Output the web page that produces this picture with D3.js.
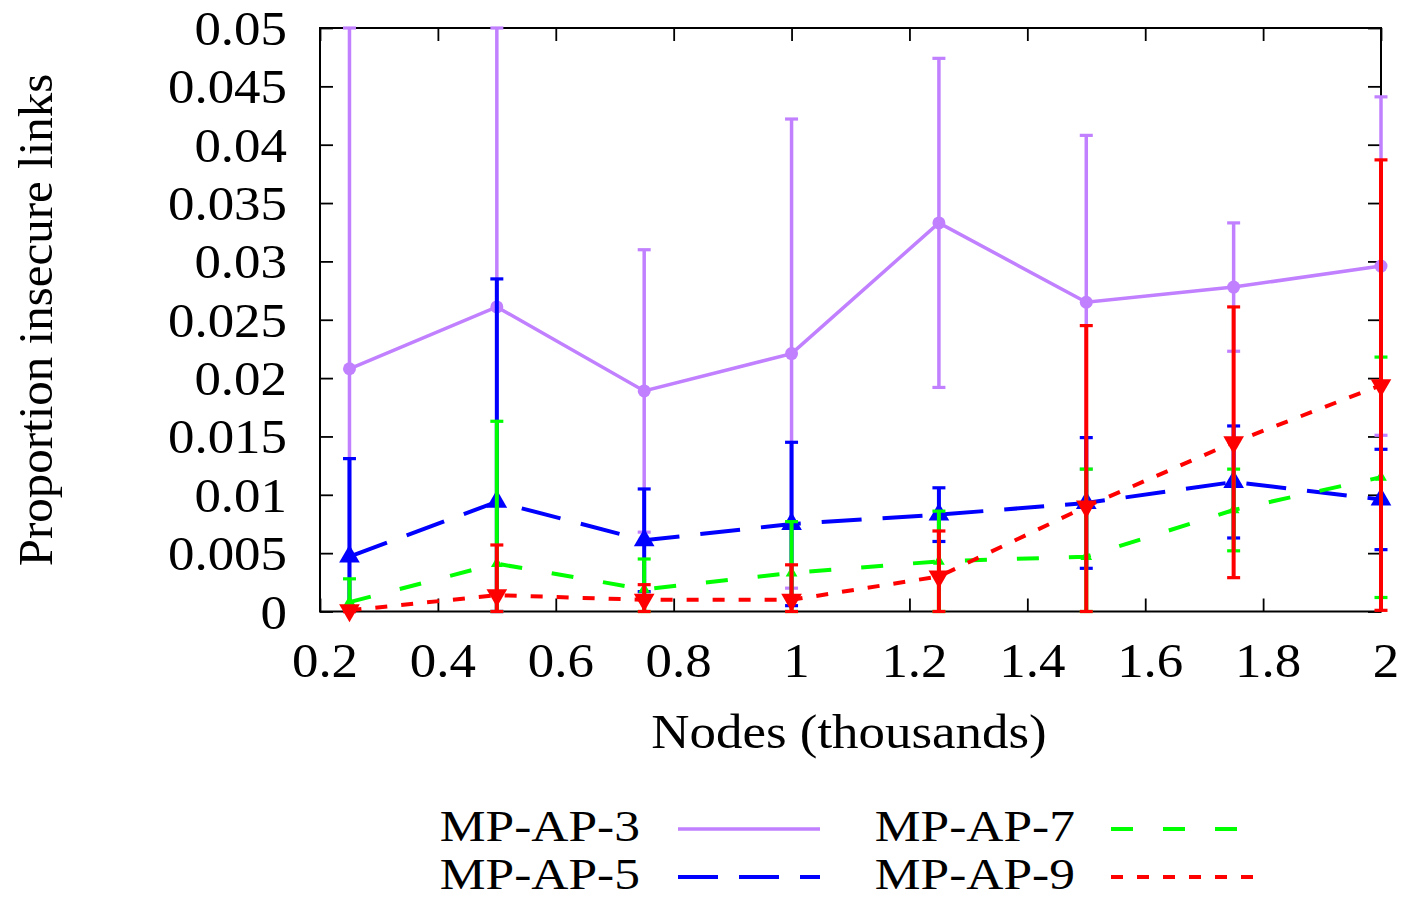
<!DOCTYPE html>
<html><head><meta charset="utf-8">
<script src="https://cdn.jsdelivr.net/npm/d3@7"></script>
<style>html,body{margin:0;padding:0;background:#fff;} text{font-family:"Liberation Serif","Times New Roman",serif;fill:#000;}</style>
</head><body>
<svg id="chart" width="1407" height="898"></svg>
<script>
// ---- data ----
const nodes = [0.25, 0.5, 0.75, 1.0, 1.25, 1.5, 1.75, 2.0];
const seriesNames = ["MP-AP-3", "MP-AP-5", "MP-AP-7", "MP-AP-9"];
const ap3Mean = [0.0208, 0.0261, 0.0189, 0.0221, 0.0333, 0.0265, 0.0278, 0.0296];
const ap3Err  = [0.0300, 0.0270, 0.0121, 0.0201, 0.0141, 0.0143, 0.0055, 0.0145];
const ap5Mean = [0.0047, 0.0094, 0.0061, 0.0075, 0.0083, 0.0093, 0.0111, 0.0096];
const ap5Err  = [0.0084, 0.0191, 0.0044, 0.0070, 0.0023, 0.0056, 0.0048, 0.0043];
const ap7Mean = [0.0008, 0.0041, 0.0019, 0.0033, 0.0043, 0.0047, 0.0087, 0.0115];
const ap7Err  = [0.0020, 0.0122, 0.0026, 0.0044, 0.0043, 0.0075, 0.0035, 0.0103];
const ap9Mean = [0.0001, 0.0014, 0.0010, 0.0010, 0.0030, 0.0090, 0.0145, 0.0194];
const ap9Err  = [0.0002, 0.0043, 0.0013, 0.0030, 0.0039, 0.0155, 0.0116, 0.0193];
const xTicks = [0.2, 0.4, 0.6, 0.8, 1.0, 1.2, 1.4, 1.6, 1.8, 2.0];
const xTickLabels = ["0.2", "0.4", "0.6", "0.8", "1", "1.2", "1.4", "1.6", "1.8", "2"];
const yTicks = [0, 0.005, 0.01, 0.015, 0.02, 0.025, 0.03, 0.035, 0.04, 0.045, 0.05];
const yTickLabels = ["0", "0.005", "0.01", "0.015", "0.02", "0.025", "0.03", "0.035", "0.04", "0.045", "0.05"];
const xTitle = "Nodes (thousands)";
const yTitle = "Proportion insecure links";

// ---- styles ----
const styles = [
  {color: "#c080ff", dash: null,     lw: 3.5, ew: 3.5, marker: "circle"},
  {color: "#0000ff", dash: "40,21",  lw: 4,   ew: 4,   marker: "up",   size: 185},
  {color: "#00ff00", dash: "22,30",  lw: 4,   ew: 4,   marker: "up",   size: 60},
  {color: "#ff0000", dash: "12,14",  lw: 4,   ew: 4,   marker: "down", size: 185}
];
const series = [
  {name: seriesNames[0], mean: ap3Mean, err: ap3Err},
  {name: seriesNames[1], mean: ap5Mean, err: ap5Err},
  {name: seriesNames[2], mean: ap7Mean, err: ap7Err},
  {name: seriesNames[3], mean: ap9Mean, err: ap9Err}
];

const L = 320, R = 1381, T = 28, B = 611.5;
const x = d3.scaleLinear().domain([0.2, 2.0]).range([L, R]);
const y = d3.scaleLinear().domain([0, 0.05]).range([B, T]);
const svg = d3.select("#chart");
const FS = 49, SX = 1.08;

function stext(g, px, py, str, anchor, sx, rot, fs) {
  return g.append("text")
    .attr("transform", `translate(${px},${py}) rotate(${rot || 0}) scale(${sx},1)`)
    .attr("text-anchor", anchor)
    .attr("font-size", fs || FS)
    .text(str);
}

// frame and ticks via axes
const tick = 13;
const gx = svg.append("g").attr("transform", `translate(0,${B})`)
  .call(d3.axisBottom(x).tickValues(xTicks).tickSize(-tick).tickFormat(""));
const gxt = svg.append("g").attr("transform", `translate(0,${T})`)
  .call(d3.axisTop(x).tickValues(xTicks).tickSize(-tick).tickFormat(""));
const gy = svg.append("g").attr("transform", `translate(${L},0)`)
  .call(d3.axisLeft(y).tickValues(yTicks).tickSize(-tick).tickFormat(""));
const gyr = svg.append("g").attr("transform", `translate(${R},0)`)
  .call(d3.axisRight(y).tickValues(yTicks).tickSize(-tick).tickFormat(""));
[gx, gxt, gy, gyr].forEach(g => {
  g.selectAll(".domain").remove();
  g.selectAll(".tick line").attr("stroke", "#000").attr("stroke-width", 1.8);
});
svg.append("rect").attr("x", L).attr("y", T).attr("width", R - L).attr("height", B - T)
  .attr("fill", "none").attr("stroke", "#000").attr("stroke-width", 2);

// tick labels
const labels = svg.append("g");
yTicks.forEach((v, i) => stext(labels, 287, y(v) + 17, yTickLabels[i], "end", SX));
xTicks.forEach((v, i) => stext(labels, x(v) + 5, 677, xTickLabels[i], "middle", SX));
stext(labels, 849, 748, xTitle, "middle", SX);
stext(labels, 52, 320, yTitle, "middle", 1.0, -90);

// data
const clamp = v => Math.max(0, Math.min(0.05, v));
const capW = 13;
series.forEach((s, si) => {
  const st = styles[si];
  const g = svg.append("g");
  const pts = nodes.map((n, i) => ({n, m: s.mean[i], e: s.err[i]}));
  // error bars
  pts.forEach(p => {
    const lo = y(clamp(p.m - p.e)), hi = y(clamp(p.m + p.e)), cx = x(p.n);
    g.append("line").attr("x1", cx).attr("x2", cx).attr("y1", lo).attr("y2", hi)
      .attr("stroke", st.color).attr("stroke-width", st.ew);
    [lo, hi].forEach(yy => g.append("line").attr("x1", cx - capW / 2).attr("x2", cx + capW / 2)
      .attr("y1", yy).attr("y2", yy).attr("stroke", st.color).attr("stroke-width", 3.2));
  });
  // line
  g.append("path").datum(pts)
    .attr("d", d3.line().x(p => x(p.n)).y(p => y(p.m)))
    .attr("fill", "none").attr("stroke", st.color).attr("stroke-width", st.lw)
    .attr("stroke-dasharray", st.dash);
  // markers
  pts.forEach(p => {
    const cx = x(p.n), cy = y(p.m);
    if (st.marker === "circle") {
      g.append("circle").attr("cx", cx).attr("cy", cy).attr("r", 6.5).attr("fill", st.color);
    } else {
      const rot = st.marker === "down" ? 180 : 0;
      g.append("path").attr("d", d3.symbol().type(d3.symbolTriangle).size(st.size)())
        .attr("transform", `translate(${cx},${cy}) rotate(${rot})`).attr("fill", st.color);
    }
  });
});

// legend
const leg = svg.append("g");
const legPos = [
  {tx: 640, ly: 829, x1: 678, x2: 820},
  {tx: 640, ly: 877, x1: 678, x2: 820},
  {tx: 1075, ly: 829, x1: 1111, x2: 1237},
  {tx: 1075, ly: 877, x1: 1111, x2: 1253}
];
series.forEach((s, i) => {
  const p = legPos[i], st = styles[i];
  stext(leg, p.tx, p.ly + 12, s.name, "end", 1.17, 0, 44);
  leg.append("line").attr("x1", p.x1).attr("x2", p.x2).attr("y1", p.ly).attr("y2", p.ly)
    .attr("stroke", st.color).attr("stroke-width", st.lw).attr("stroke-dasharray", st.dash);
});
</script>
</body></html>
